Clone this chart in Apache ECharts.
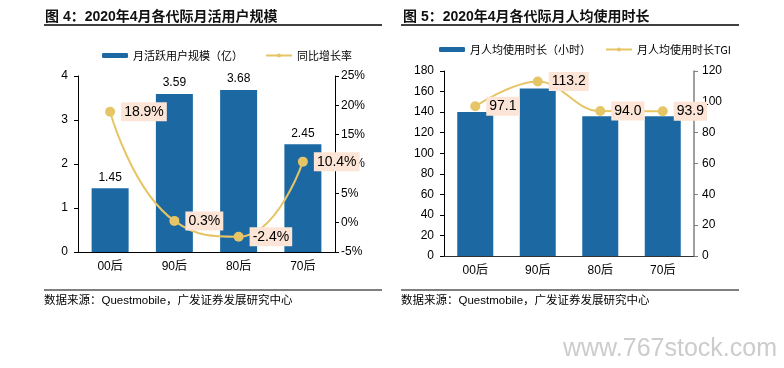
<!DOCTYPE html>
<html><head><meta charset="utf-8">
<script src="https://cdn.jsdelivr.net/npm/echarts@6/dist/echarts.min.js"></script>
<style>html,body{margin:0;padding:0;background:#fff}#c{width:784px;height:368px}</style>
</head><body><div id="c"></div>
<script>
const categories = ['00后', '90后', '80后', '70后'];
const mauValues = [1.45, 3.59, 3.68, 2.45];
const mauGrowth = [18.9, 0.3, -2.4, 10.4];
const usageHours = [140, 163, 136, 136];
const usageTGI = [97.1, 113.2, 94.0, 93.9];
const leftTitle = '图 4：2020年4月各代际月活用户规模';
const rightTitle = '图 5：2020年4月各代际月人均使用时长';
const sourceText = '数据来源：Questmobile，广发证券发展研究中心';

const BLUE = '#1c68a3';
const GOLD = '#e5c565';
const LBG = '#fce5d6';
const FONT = 'Liberation Sans, Arial, Noto Sans CJK SC, sans-serif';

const chart = echarts.init(document.getElementById('c'));
const axisLbl = {color: '#000', fontSize: 12, fontFamily: FONT};
const lineLabel = (fmt) => ({
  show: true, position: 'right', distance: 6, formatter: fmt,
  color: '#000', fontSize: 14, fontFamily: FONT,
  backgroundColor: LBG, padding: [3, 3, 2, 3]
});

chart.setOption({
  animation: false,
  textStyle: {fontFamily: FONT},
  title: [
    {text: leftTitle, left: 40, top: 5, textStyle: {fontSize: 14, fontWeight: 'bold', color: '#111', fontFamily: 'Liberation Sans, Noto Sans CJK SC, sans-serif'}},
    {text: rightTitle, left: 398, top: 5, textStyle: {fontSize: 14, fontWeight: 'bold', color: '#111', fontFamily: 'Liberation Sans, Noto Sans CJK SC, sans-serif'}}
  ],
  legend: [
    {data: ['月活跃用户规模（亿）', '同比增长率'], left: 97, top: 45, itemWidth: 26, itemHeight: 5, itemGap: 22,
     textStyle: {fontSize: 11, color: '#000', fontFamily: 'Noto Sans CJK SC, sans-serif'}},
    {data: ['月人均使用时长（小时）', '月人均使用时长TGI'], left: 434, top: 39, itemWidth: 26, itemHeight: 5, itemGap: 14,
     textStyle: {fontSize: 11, color: '#000', fontFamily: 'Noto Sans CJK SC, sans-serif'}}
  ],
  grid: [
    {left: 78, right: 449, top: 76, bottom: 116},
    {left: 444, right: 90, top: 71, bottom: 112}
  ],
  xAxis: [
    {type: 'category', gridIndex: 0, data: categories,
     axisLine: {lineStyle: {color: '#000', width: 1}}, axisTick: {length: 4, lineStyle: {color: '#000'}},
     axisLabel: Object.assign({margin: 9}, axisLbl)},
    {type: 'category', gridIndex: 1, data: categories,
     axisLine: {lineStyle: {color: '#333', width: 1}}, axisTick: {length: 4, lineStyle: {color: '#333'}},
     axisLabel: Object.assign({margin: 9}, axisLbl)}
  ],
  yAxis: [
    {type: 'value', gridIndex: 0, min: 0, max: 4, interval: 1, splitLine: {show: false},
     axisLine: {show: true, lineStyle: {color: '#000'}}, axisTick: {show: true, length: 4},
     axisLabel: Object.assign({margin: 10}, axisLbl)},
    {type: 'value', gridIndex: 0, position: 'right', min: -5, max: 25, interval: 5, splitLine: {show: false},
     axisLine: {show: true, lineStyle: {color: '#000'}}, axisTick: {show: true, length: 4},
     axisLabel: Object.assign({margin: 6, formatter: '{value}%'}, axisLbl)},
    {type: 'value', gridIndex: 1, min: 0, max: 180, interval: 20, splitLine: {show: false},
     axisLine: {show: true, lineStyle: {color: '#000'}}, axisTick: {show: true, length: 4},
     axisLabel: Object.assign({margin: 10}, axisLbl)},
    {type: 'value', gridIndex: 1, position: 'right', min: 0, max: 120, interval: 20, splitLine: {show: false},
     axisLine: {show: true, lineStyle: {color: '#7f7f7f', width: 1.5}}, axisTick: {show: true, length: 4, lineStyle: {color: '#7f7f7f'}},
     axisLabel: Object.assign({margin: 8}, axisLbl)}
  ],
  series: [
    {name: '月活跃用户规模（亿）', type: 'bar', xAxisIndex: 0, yAxisIndex: 0, data: mauValues, barWidth: 37,
     itemStyle: {color: BLUE},
     label: {show: true, position: 'top', distance: 5, color: '#000', fontSize: 12, fontFamily: FONT, formatter: (p) => p.value.toFixed(2)}},
    {name: '同比增长率', type: 'line', xAxisIndex: 0, yAxisIndex: 1, data: mauGrowth, smooth: 0.5,
     symbol: 'circle', symbolSize: 10, lineStyle: {color: GOLD, width: 2}, itemStyle: {color: GOLD},
     label: lineLabel((p) => p.value.toFixed(1) + '%'), z: 5},
    {name: '月人均使用时长（小时）', type: 'bar', xAxisIndex: 1, yAxisIndex: 2, data: usageHours, barWidth: 36,
     itemStyle: {color: BLUE}},
    {name: '月人均使用时长TGI', type: 'line', xAxisIndex: 1, yAxisIndex: 3, data: usageTGI, smooth: 0.4,
     symbol: 'circle', symbolSize: 10, lineStyle: {color: GOLD, width: 2}, itemStyle: {color: GOLD},
     label: lineLabel((p) => p.value.toFixed(1)), z: 5}
  ],
  graphic: [
    {type: 'line', shape: {x1: 44, y1: 25, x2: 382, y2: 25}, style: {stroke: '#000', lineWidth: 1.5}},
    {type: 'line', shape: {x1: 401, y1: 25, x2: 739, y2: 25}, style: {stroke: '#000', lineWidth: 1.5}},
    {type: 'line', shape: {x1: 44, y1: 290, x2: 382, y2: 290}, style: {stroke: '#000', lineWidth: 1.2}},
    {type: 'line', shape: {x1: 401, y1: 290, x2: 739, y2: 290}, style: {stroke: '#000', lineWidth: 1.2}},
    {type: 'text', left: 44, top: 295, style: {text: sourceText, fontSize: 11.5, fill: '#000', fontFamily: 'Liberation Sans, Noto Sans CJK SC, sans-serif'}},
    {type: 'text', left: 401, top: 295, style: {text: sourceText, fontSize: 11.5, fill: '#000', fontFamily: 'Liberation Sans, Noto Sans CJK SC, sans-serif'}},
    {type: 'text', left: 563, top: 337, style: {text: 'www.767stock.com', fontSize: 25, fill: '#cccccc', fontFamily: 'Liberation Sans Narrow, Liberation Sans, sans-serif'}}
  ]
});
</script></body></html>
